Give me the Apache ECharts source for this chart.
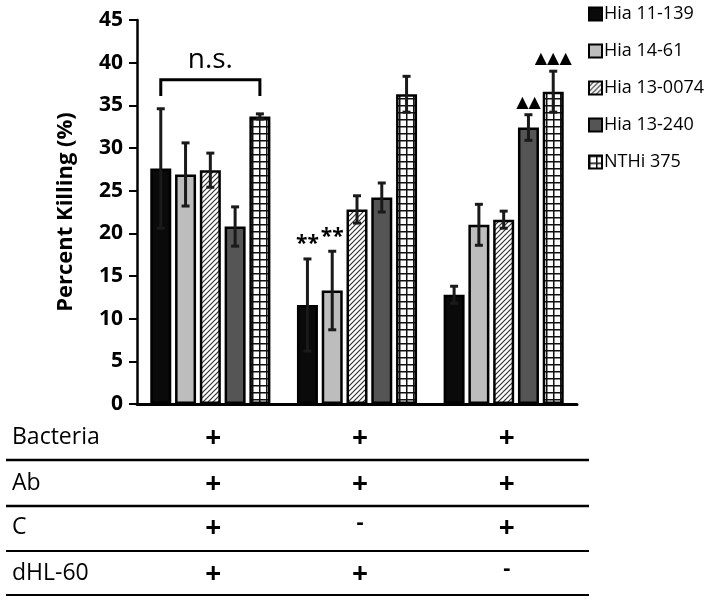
<!DOCTYPE html>
<html>
<head>
<meta charset="utf-8">
<script src="https://cdn.jsdelivr.net/npm/echarts@6/dist/echarts.min.js"></script>
<style>
  html, body { margin: 0; padding: 0; background: #fff; }
  #main { width: 709px; height: 601px; }
</style>
</head>
<body>
<div id="main"></div>
<script>
// groups on the x axis (conditions)
const categories = ["A", "B", "C"];
const seriesNames = ["Hia 11-139", "Hia 14-61", "Hia 13-0074", "Hia 13-240", "NTHi 375"];

// mean percent killing per strain, one value per group
const hia11139 = [27.6, 11.6, 12.8];
const hia1461 = [26.9, 13.3, 21.0];
const hia130074 = [27.4, 22.8, 21.6];
const hia13240 = [20.8, 24.2, 32.4];
const nthi375 = [33.7, 36.3, 36.6];

// error bar half widths
const err11139 = [7.0, 5.4, 1.0];
const err1461 = [3.7, 4.6, 2.4];
const err130074 = [2.0, 1.6, 1.0];
const err13240 = [2.3, 1.7, 1.5];
const errNthi = [0.3, 2.1, 2.4];

// significance marks above the bars
const sig11139 = ["", "**", ""];
const sig1461 = ["", "**", ""];
const sig130074 = ["", "", ""];
const sig13240 = ["", "", "▲▲"];
const sigNthi = ["", "", "▲▲▲"];

// n.s. bracket over the first group
const bracketValue = 38.0;
const bracketLeg = 1.9;
const bracketLabel = "n.s.";

// y axis ticks
const yTicks = [0, 5, 10, 15, 20, 25, 30, 35, 40, 45];

// condition table under the chart
const rowLabels = ["Bacteria", "Ab", "C", "dHL-60"];
const rowBacteria = ["+", "+", "+"];
const rowAb = ["+", "+", "+"];
const rowC = ["+", "-", "+"];
const rowHL60 = ["+", "+", "-"];

const values = [hia11139, hia1461, hia130074, hia13240, nthi375];
const errors = [err11139, err1461, err130074, err13240, errNthi];
const sigs = [sig11139, sig1461, sig130074, sig13240, sigNthi];
const tableRows = [rowBacteria, rowAb, rowC, rowHL60];

const FONT = "'Open Sans', 'Noto Sans', sans-serif";
const BAR_W = 21;
const BAR_GAP = 0.18;

// 斜线填充
function hatchPattern() {
  const c = document.createElement("canvas");
  c.width = 5;
  c.height = 5;
  const ctx = c.getContext("2d");
  ctx.fillStyle = "#fff";
  ctx.fillRect(0, 0, 5, 5);
  ctx.strokeStyle = "#333";
  ctx.lineWidth = 1.2;
  ctx.beginPath();
  ctx.moveTo(-1, 6);
  ctx.lineTo(6, -1);
  ctx.moveTo(-1, 1);
  ctx.lineTo(1, -1);
  ctx.moveTo(4, 6);
  ctx.lineTo(6, 4);
  ctx.stroke();
  return { image: c, repeat: "repeat" };
}

// 网格填充
function gridPattern() {
  const c = document.createElement("canvas");
  c.width = 7;
  c.height = 7;
  const ctx = c.getContext("2d");
  ctx.fillStyle = "#fff";
  ctx.fillRect(0, 0, 7, 7);
  ctx.fillStyle = "#111";
  ctx.fillRect(0, 0, 7, 1.5);
  ctx.fillRect(0, 0, 1.5, 7);
  return { image: c, repeat: "repeat" };
}

const fills = ["#0a0a0a", "#bdbdbd", hatchPattern(), "#555555", gridPattern()];

const chart = echarts.init(document.getElementById("main"));

function barOffset(i) {
  const step = BAR_W * (1 + BAR_GAP);
  return (i - (seriesNames.length - 1) / 2) * step;
}

const barSeries = seriesNames.map((name, i) => ({
  name: name,
  type: "bar",
  data: values[i],
  barWidth: BAR_W,
  barGap: BAR_GAP * 100 + "%",
  itemStyle: {
    color: fills[i],
    borderColor: "#000",
    borderWidth: 2.5,
  },
  z: 2,
}));

const errSeries = seriesNames.map((name, i) => ({
  name: "err-" + name,
  type: "custom",
  z: 5,
  silent: true,
  data: values[i].map((v, j) => [j, v, errors[i][j]]),
  renderItem: (params, api) => {
    const cat = api.value(0);
    const v = api.value(1);
    const e = api.value(2);
    const sig = sigs[i][cat];
    const x = api.coord([cat, v])[0] + barOffset(i);
    const yTop = api.coord([cat, v + e])[1];
    const yBot = api.coord([cat, v - e])[1];
    const cap = 4;
    const st = { stroke: "#1a1a1a", lineWidth: 3 };
    const children = [
      { type: "line", shape: { x1: x, y1: yTop, x2: x, y2: yBot }, style: st },
      { type: "line", shape: { x1: x - cap, y1: yTop, x2: x + cap, y2: yTop }, style: st },
      { type: "line", shape: { x1: x - cap, y1: yBot, x2: x + cap, y2: yBot }, style: st },
    ];
    if (sig) {
      const isStar = sig.indexOf("*") >= 0;
      children.push({
        type: "text",
        style: {
          text: sig,
          x: x,
          y: yTop - (isStar ? 4 : 4),
          align: "center",
          verticalAlign: "bottom",
          font: isStar ? "bold 21px " + FONT : "16px 'DejaVu Sans', sans-serif",
          fill: "#000",
        },
      });
    }
    return { type: "group", children: children };
  },
}));

const bracketSeries = {
  name: "bracket",
  type: "custom",
  z: 5,
  silent: true,
  data: [[0, bracketValue]],
  renderItem: (params, api) => {
    const cat = api.value(0);
    const v = api.value(1);
    const cx = api.coord([cat, v])[0];
    const y = api.coord([cat, v])[1];
    const yLeg = api.coord([cat, v - bracketLeg])[1];
    const x1 = cx + barOffset(0);
    const x2 = cx + barOffset(seriesNames.length - 1);
    const st = { stroke: "#000", lineWidth: 3, fill: null };
    return {
      type: "group",
      children: [
        {
          type: "polyline",
          shape: { points: [[x1, yLeg], [x1, y], [x2, y], [x2, yLeg]] },
          style: st,
        },
        {
          type: "text",
          style: {
            text: bracketLabel,
            x: (x1 + x2) / 2,
            y: y - 6,
            align: "center",
            verticalAlign: "bottom",
            font: "28px " + FONT,
            fill: "#000",
          },
        },
      ],
    };
  },
};

const option = {
  animation: false,
  textStyle: { fontFamily: FONT },
  grid: {
    left: 137,
    top: 20,
    width: 440,
    bottom: 197,
  },
  legend: {
    data: seriesNames,
    orient: "vertical",
    left: 583,
    top: 0,
    itemWidth: 13,
    itemHeight: 13,
    itemGap: 19,
    icon: "rect",
    selectedMode: false,
    textStyle: { fontSize: 18, color: "#000", fontFamily: FONT, padding: [0, 0, 0, -3] },
  },
  xAxis: {
    type: "category",
    data: categories,
    axisLine: { lineStyle: { color: "#000", width: 3 } },
    axisTick: { show: false },
    axisLabel: { show: false },
  },
  yAxis: {
    type: "value",
    min: yTicks[0],
    max: yTicks[yTicks.length - 1],
    interval: 5,
    name: "Percent Killing (%)",
    nameLocation: "middle",
    nameGap: 60,
    nameTextStyle: { fontSize: 22, fontWeight: "bold", color: "#000", fontFamily: FONT },
    axisLine: { show: true, lineStyle: { color: "#000", width: 2.5 } },
    axisTick: { show: true, inside: false, length: 8, lineStyle: { color: "#000", width: 2 } },
    axisLabel: { fontSize: 21, fontWeight: "bold", color: "#000", margin: 14, fontFamily: FONT },
    splitLine: { show: false },
  },
  series: [...barSeries, ...errSeries, bracketSeries],
};

chart.setOption(option);

// 条件表格
const rowY = [437, 483, 527, 573];
const lineY = [460, 506, 551, 595];
const graphics = [];
rowLabels.forEach((label, r) => {
  graphics.push({
    type: "text",
    x: 12,
    y: rowY[r],
    style: { text: label, font: "23px " + FONT, fill: "#000", verticalAlign: "middle" },
  });
  tableRows[r].forEach((mark, j) => {
    const cx = chart.convertToPixel({ xAxisIndex: 0 }, j);
    graphics.push({
      type: "text",
      x: cx + 3,
      y: rowY[r] + (mark === "+" ? 2 : -4),
      style: {
        text: mark,
        font: (mark === "+" ? "bold 28px " : "bold 22px ") + FONT,
        fill: "#000",
        align: "center",
        verticalAlign: "middle",
      },
    });
  });
  graphics.push({
    type: "line",
    shape: { x1: 6, y1: lineY[r], x2: 589, y2: lineY[r] },
    style: { stroke: "#000", lineWidth: r < 2 ? 2.5 : 2 },
  });
});
chart.setOption({ graphic: graphics });
</script>
</body>
</html>
